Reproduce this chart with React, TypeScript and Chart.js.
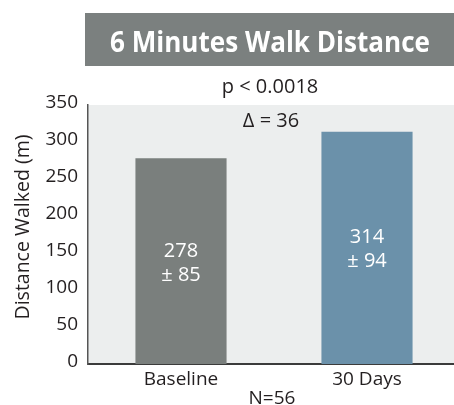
import React, { useEffect, useRef } from "react";
import { Chart, registerables } from "chart.js";

Chart.register(...registerables);

const categories = ["Baseline", "30 Days"];
const meanValues = [278, 314];
const sdValues = [85, 94];
const barColors = ["#7a7f7d", "#6b91aa"];
const yMin = 0;
const yMax = 350;
const yStep = 50;
const titleText = "6 Minutes Walk Distance";
const pText = "p < 0.0018";
const deltaText = "Δ = 36";
const nText = "N=56";
const yTitleText = "Distance Walked (m)";

const FONT = "'Open Sans', 'DejaVu Sans', sans-serif";
const TEXT = "#231f20";

const decorPlugin = {
  id: "decor",
  beforeDraw(chart: any) {
    const { ctx, chartArea } = chart;
    ctx.save();
    ctx.fillStyle = "#eceeee";
    ctx.fillRect(chartArea.left, chartArea.top, chartArea.right - chartArea.left, chartArea.bottom - chartArea.top);
    // title box
    ctx.fillStyle = "#7b807f";
    ctx.fillRect(85, 13, chart.width - 85, 53);
    ctx.font = `bold 29px ${FONT}`;
    const w = ctx.measureText(titleText).width;
    ctx.translate(270, 52);
    ctx.scale(320 / w, 1);
    ctx.fillStyle = "#ffffff";
    ctx.textAlign = "center";
    ctx.textBaseline = "alphabetic";
    ctx.fillText(titleText, 0, 0);
    ctx.restore();
  },
  afterDatasetsDraw(chart: any) {
    const { ctx } = chart;
    const meta = chart.getDatasetMeta(0);
    ctx.save();
    ctx.fillStyle = "#ffffff";
    ctx.font = `20px ${FONT}`;
    ctx.textAlign = "center";
    ctx.textBaseline = "alphabetic";
    meta.data.forEach((bar: any, i: number) => {
      const mid = (bar.y + bar.base) / 2;
      ctx.fillText(String(meanValues[i]), bar.x, mid - 12 + 7.5);
      ctx.fillText("± " + sdValues[i], bar.x, mid + 12 + 7.5);
    });
    ctx.restore();
  },
  afterDraw(chart: any) {
    const { ctx } = chart;
    ctx.save();
    ctx.fillStyle = TEXT;
    ctx.textAlign = "center";
    ctx.textBaseline = "alphabetic";
    ctx.font = `20px ${FONT}`;
    ctx.fillText(pText, 270, 93);
    ctx.fillText(deltaText, 271, 127);
    ctx.font = `19px ${FONT}`;
    ctx.fillText(nText, 272, 404);
    // y title
    ctx.font = `19.5px ${FONT}`;
    ctx.translate(23, 227);
    ctx.rotate(-Math.PI / 2);
    ctx.textBaseline = "middle";
    ctx.fillText(yTitleText, 0, 0);
    ctx.restore();
  },
};

export default function App() {
  const ref = useRef<HTMLCanvasElement | null>(null);
  useEffect(() => {
    if (!ref.current) return;
    const chart = new Chart(ref.current, {
      type: "bar",
      data: {
        labels: categories,
        datasets: [
          {
            data: meanValues,
            backgroundColor: barColors,
            borderWidth: 0,
            barPercentage: 0.49,
            categoryPercentage: 1,
          },
        ],
      },
      options: {
        responsive: false,
        animation: false,
        devicePixelRatio: 1,
        layout: { padding: { top: 105, left: 0, right: 0, bottom: 0 } },
        plugins: { legend: { display: false }, tooltip: { enabled: false }, title: { display: false } },
        scales: {
          x: {
            offset: true,
            grid: { display: false, drawTicks: false },
            border: { display: true, color: "#3b3b3b", width: 2 },
            ticks: { font: { family: FONT, size: 19 }, color: TEXT, padding: 4 },
            afterFit(s: any) {
              s.height = 41;
            },
          },
          y: {
            min: yMin,
            max: yMax,
            grid: { display: false, drawTicks: false },
            border: { display: true, color: "#555555", width: 1.5 },
            ticks: { stepSize: yStep, padding: 10, font: { family: FONT, size: 19 }, color: TEXT, labelOffset: -2 },
            afterFit(s: any) {
              s.width = 88;
            },
          },
        },
      },
      plugins: [decorPlugin],
    });
    return () => chart.destroy();
  }, []);
  return (
    <div style={{ position: "fixed", left: 0, top: 0, width: 454, height: 405, overflow: "hidden", background: "#fff" }}>
      <canvas ref={ref} width={460} height={405} style={{ display: "block" }} />
    </div>
  );
}
